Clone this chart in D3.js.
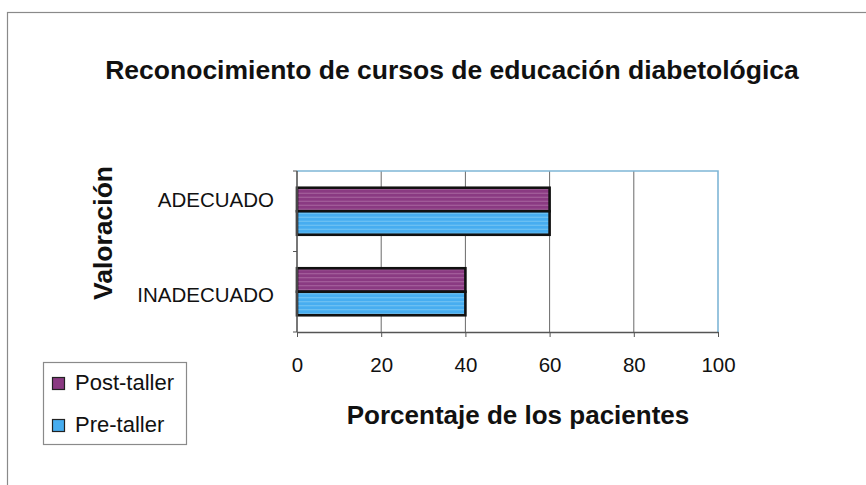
<!DOCTYPE html>
<html>
<head>
<meta charset="utf-8">
<script src="https://cdn.jsdelivr.net/npm/d3@7"></script>
<style>
  html, body { margin: 0; padding: 0; background: #fff; }
  svg { display: block; font-family: Arial, "Liberation Sans", sans-serif; }
</style>
</head>
<body>
<svg id="chart" width="866" height="485"></svg>
<script>
// Categories and series values, in percent
const categories = ["ADECUADO", "INADECUADO"];
const seriesNames = ["Post-taller", "Pre-taller"];
const postTaller = [60, 40];
const preTaller = [60, 40];
const xTicks = [0, 20, 40, 60, 80, 100];

const chartTitle = "Reconocimiento de cursos de educación diabetológica";
const xTitle = "Porcentaje de los pacientes";
const yTitle = "Valoración";

const svg = d3.select("#chart");
const W = 866, H = 485;
const plot = { left: 297, right: 718, top: 171, bottom: 332 };

// Bar fills: solid base with fine horizontal light streaks
const defs = svg.append("defs");
function stripePattern(id, base, light) {
  const p = defs.append("pattern")
    .attr("id", id).attr("patternUnits", "userSpaceOnUse")
    .attr("width", 8).attr("height", 4);
  p.append("rect").attr("width", 8).attr("height", 4).attr("fill", base);
  p.append("rect").attr("y", 1).attr("width", 8).attr("height", 1).attr("fill", light).attr("opacity", 0.55);
}
stripePattern("purpleFill", "#8a3a82", "#c08ab8");
stripePattern("blueFill", "#47adf0", "#9cd8f6");
const fills = ["url(#purpleFill)", "url(#blueFill)"];
const swatch = ["#8a3a82", "#47adf0"];

// Outer chart frame
svg.append("rect")
  .attr("x", 7.5).attr("y", 12.5).attr("width", W + 10).attr("height", H + 10)
  .attr("fill", "none").attr("stroke", "#8a8a8a").attr("stroke-width", 1.2);

// Title
svg.append("text")
  .attr("x", 452).attr("y", 79)
  .attr("text-anchor", "middle")
  .attr("font-size", 26.5).attr("font-weight", "bold").attr("fill", "#111")
  .text(chartTitle);

// Scales
const x = d3.scaleLinear().domain([0, 100]).range([plot.left, plot.right]);
const y = d3.scaleBand().domain(categories).range([plot.top, plot.bottom])
  .paddingInner(0.416).paddingOuter(0.208);
const ySub = d3.scaleBand().domain(seriesNames).range([0, y.bandwidth()]);

// Vertical gridlines
svg.append("g").selectAll("line")
  .data(xTicks.filter(t => t > 0 && t < 100))
  .join("line")
  .attr("x1", d => x(d)).attr("x2", d => x(d))
  .attr("y1", plot.top).attr("y2", plot.bottom)
  .attr("stroke", "#6a6a6a").attr("stroke-width", 1);

// Plot area border (top and right)
svg.append("path")
  .attr("d", `M${plot.left},${plot.top}H${plot.right}V${plot.bottom}`)
  .attr("fill", "none").attr("stroke", "#7fb6d6").attr("stroke-width", 1.6);

// Bars
const rows = categories.map((c, i) => ({ cat: c, values: [postTaller[i], preTaller[i]] }));
const groups = svg.append("g").selectAll("g")
  .data(rows).join("g")
  .attr("transform", d => `translate(0,${y(d.cat)})`);
groups.selectAll("rect")
  .data(d => d.values.map((v, j) => ({ v, s: seriesNames[j], j })))
  .join("rect")
  .attr("x", x(0))
  .attr("y", d => ySub(d.s))
  .attr("width", d => x(d.v) - x(0))
  .attr("height", ySub.bandwidth())
  .attr("fill", d => fills[d.j])
  .attr("stroke", "#111").attr("stroke-width", 2.6);

// X axis
const xAxis = svg.append("g")
  .attr("transform", `translate(0,${plot.bottom})`)
  .call(d3.axisBottom(x).tickValues(xTicks).tickSizeInner(5).tickSizeOuter(0).tickPadding(20));
xAxis.select(".domain").attr("stroke", "#555").attr("stroke-width", 1.6);
xAxis.selectAll(".tick line").attr("stroke", "#555");
xAxis.selectAll(".tick text")
  .attr("font-size", 20.5).attr("fill", "#111")
  .attr("font-family", "Arial, 'Liberation Sans', sans-serif");

// Y axis: category boundaries as ticks
const yEdges = [plot.top, (plot.top + plot.bottom) / 2, plot.bottom];
svg.append("line")
  .attr("x1", plot.left).attr("x2", plot.left)
  .attr("y1", plot.top).attr("y2", plot.bottom)
  .attr("stroke", "#555").attr("stroke-width", 1.6);
svg.append("g").selectAll("line")
  .data(yEdges).join("line")
  .attr("x1", plot.left - 4).attr("x2", plot.left)
  .attr("y1", d => d).attr("y2", d => d)
  .attr("stroke", "#555");

// Category labels
const labelShift = [-4, 10];
svg.append("g").selectAll("text")
  .data(categories).join("text")
  .attr("x", 274)
  .attr("y", (d, i) => y(d) + y.bandwidth() / 2 + labelShift[i])
  .attr("text-anchor", "end")
  .attr("font-size", 20.5).attr("fill", "#111")
  .text(d => d);

// Axis titles
svg.append("text")
  .attr("x", 518).attr("y", 424)
  .attr("text-anchor", "middle")
  .attr("font-size", 26).attr("font-weight", "bold").attr("fill", "#111")
  .text(xTitle);

svg.append("text")
  .attr("transform", "translate(112,233) rotate(-90)")
  .attr("text-anchor", "middle")
  .attr("font-size", 26.5).attr("font-weight", "bold").attr("fill", "#111")
  .text(yTitle);

// Legend
const legend = svg.append("g");
legend.append("rect")
  .attr("x", 43.5).attr("y", 362.5).attr("width", 143).attr("height", 82)
  .attr("fill", "#fff").attr("stroke", "#8a8a8a").attr("stroke-width", 1.2);
const items = legend.selectAll("g.item")
  .data(seriesNames).join("g").attr("class", "item")
  .attr("transform", (d, i) => `translate(0,${i * 42})`);
items.append("rect")
  .attr("x", 52.5).attr("y", 377.5).attr("width", 12).attr("height", 12)
  .attr("fill", (d, i) => swatch[i]).attr("stroke", "#222").attr("stroke-width", 1.2);
items.append("text")
  .attr("x", 75).attr("y", 390)
  .attr("font-size", 22).attr("fill", "#111")
  .text(d => d);
</script>
</body>
</html>
